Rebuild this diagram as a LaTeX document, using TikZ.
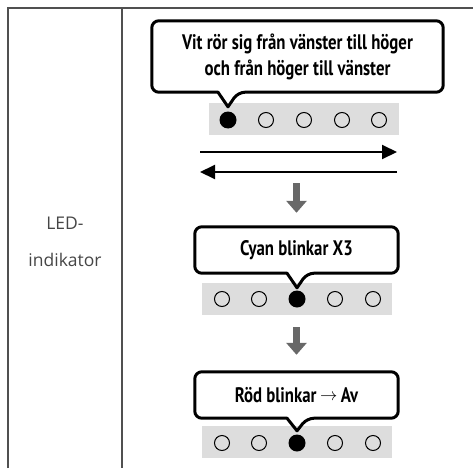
\documentclass[tikz,border=0pt]{standalone}
\usepackage{fontspec}
\setmainfont{Open Sans}
\newfontfamily\bullefont[FakeStretch=0.8]{PT Sans}
\usetikzlibrary{arrows.meta}

\begin{document}
\begin{tikzpicture}[x=1pt,y=-1pt,
bulle/.style={draw=black,line width=3pt,rounded corners=7pt,line join=round},
texte/.style={font=\bullefont\bfseries\fontsize{21}{26}\selectfont,align=center,inner sep=0pt},
bande/.style={fill=gris,minimum width=190pt,minimum height=32pt,inner sep=0pt},
led/.style={circle,draw=black,line width=1pt,minimum size=15pt,inner sep=0pt},
ledon/.style={circle,fill=black,minimum size=17pt,inner sep=0pt},
fleche/.style={-{Triangle[length=15pt,width=14pt]},line width=2pt},
descente/.style={-{Triangle[length=12pt,width=20pt]},line width=7pt,draw=grisfonce},
cadre/.style={line width=1.2pt,draw=trait},
etiquette/.style={align=center,text=etiq,font=\fontsize{17.5}{37}\selectfont}]
\definecolor{gris}{RGB}{221,221,221}
\definecolor{grisfonce}{RGB}{104,104,104}
\definecolor{trait}{RGB}{80,80,80}
\definecolor{etiq}{RGB}{70,70,70}
\useasboundingbox (0,0) rectangle (473,468);
% tableau
\draw[cadre] (8,468) -- (8,8) -- (473,8);
\draw[cadre] (122,8) -- (122,468);
\node[etiquette] (titre) at (65,242) {LED-\\indikator};
% bandes de LED
\node[bande] (bandA) at (304,119) {};
\node[bande] (bandB) at (297,299) {};
\node[bande] (bandC) at (297,442) {};
\foreach \i/\x/\s in {1/228/ledon,2/266/led,3/304/led,4/342/led,5/379/led}
  \node[\s] (ledA\i) at (\x,120) {};
\foreach \i/\x/\s in {1/222/led,2/259/led,3/297/ledon,4/335/led,5/373/led}
  \node[\s] (ledB\i) at (\x,299) {};
\foreach \i/\x/\s in {1/222/led,2/259/led,3/297/ledon,4/335/led,5/373/led}
  \node[\s] (ledC\i) at (\x,443) {};
% bulles
\node[texte,minimum width=291pt,minimum height=71pt] (bulleA) at (297.5,56.5) {Vit rör sig från vänster till höger\\och från höger till vänster};
\node[texte,minimum width=203pt,minimum height=46pt] (bulleB) at (296.5,250) {Cyan blinkar X3};
\node[texte,minimum width=203pt,minimum height=46pt] (bulleC) at (296.5,395) {Röd blinkar\,\raisebox{2pt}{\mdseries\fontsize{16}{16}\selectfont$\rightarrow$}\,Av};
\draw[bulle] ([xshift=-10pt]ledA1 |- bulleA.south) -- (bulleA.south west) -- (bulleA.north west) -- (bulleA.north east) -- (bulleA.south east) -- ([xshift=10pt]ledA1 |- bulleA.south) [sharp corners] -- ([yshift=-4pt]ledA1 |- bandA.north) -- cycle;
\draw[bulle] ([xshift=-10pt]ledB3 |- bulleB.south) -- (bulleB.south west) -- (bulleB.north west) -- (bulleB.north east) -- (bulleB.south east) -- ([xshift=10pt]ledB3 |- bulleB.south) [sharp corners] -- ([yshift=-5pt]ledB3 |- bandB.north) -- cycle;
\draw[bulle] ([xshift=-10pt]ledC3 |- bulleC.south) -- (bulleC.south west) -- (bulleC.north west) -- (bulleC.north east) -- (bulleC.south east) -- ([xshift=10pt]ledC3 |- bulleC.south) [sharp corners] -- ([yshift=-5pt]ledC3 |- bandC.north) -- cycle;
% fleches
\coordinate (gaucheA) at (200,152);
\coordinate (droiteA) at (397,152);
\coordinate (droiteB) at (397,172);
\coordinate (gaucheB) at (200,172);
\draw[fleche] (gaucheA) -- (droiteA);
\draw[fleche] (droiteB) -- (gaucheB);
\draw[descente,shorten <=48pt,shorten >=14pt] (bulleB.north |- bandA.south) -- (bulleB.north);
\draw[descente,shorten <=12pt,shorten >=17pt] (bulleC.north |- bandB.south) -- (bulleC.north);
\end{tikzpicture}
\end{document}
